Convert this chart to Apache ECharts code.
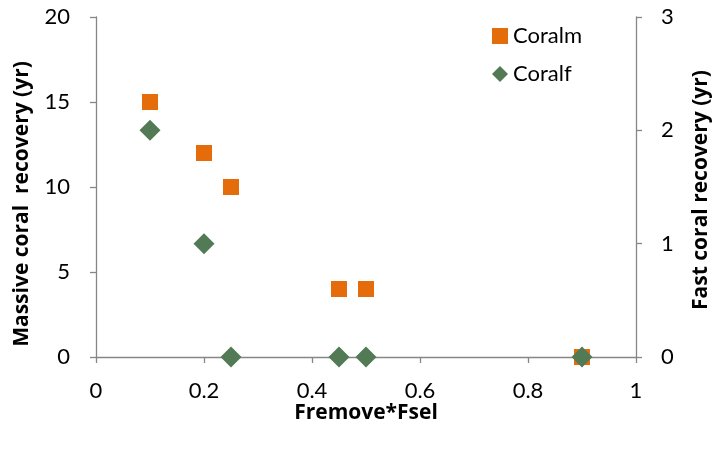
<!DOCTYPE html>
<html><head><meta charset="utf-8">
<script src="https://cdn.jsdelivr.net/npm/echarts@6/dist/echarts.min.js"></script>
<style>html,body{margin:0;padding:0;background:#fff}#c{width:720px;height:452px}</style>
</head><body><div id="c"></div>
<script>
const xValues = [0.1, 0.2, 0.25, 0.45, 0.5, 0.9];
const coralm = [15, 12, 10, 4, 4, 0];
const coralf = [2, 1, 0, 0, 0, 0];
const seriesNames = ['Coralm', 'Coralf'];
const xTitle = 'Fremove*Fsel';
const yLeftTitle = 'Massive coral  recovery (yr)';
const yRightTitle = 'Fast coral recovery (yr)';

const FONT = 'Lato, "Open Sans", sans-serif';
const TFONT = '"Open Sans", sans-serif';
const axisColor = '#868686';
const chart = echarts.init(document.getElementById('c'));
const axisCommon = {
  nameMoveOverlap: false,
  axisLine: {show: true, onZero: false, lineStyle: {color: axisColor, width: 1.3}},
  axisTick: {show: true, length: 6, lineStyle: {color: axisColor, width: 1.3}},
  splitLine: {show: false},
  axisLabel: {color: '#000', fontSize: 22, fontFamily: FONT},
  nameTextStyle: {color: '#000', fontSize: 21, fontWeight: 'bold', fontFamily: TFONT}
};
chart.setOption({
  animation: false,
  grid: {left: 96, right: 84, top: 17, bottom: 95},
  legend: {
    orient: 'vertical', left: 487, top: 20, itemGap: 16,
    itemWidth: 16, itemHeight: 16,
    textStyle: {fontSize: 22, fontFamily: FONT, color: '#000'},
    data: [{name: seriesNames[0], icon: 'rect'}, {name: seriesNames[1], icon: 'diamond'}]
  },
  xAxis: Object.assign({}, axisCommon, {
    type: 'value', min: 0, max: 1, interval: 0.2,
    name: xTitle, nameLocation: 'middle', nameGap: 46,
    axisLabel: Object.assign({}, axisCommon.axisLabel, {margin: 23})
  }),
  yAxis: [
    Object.assign({}, axisCommon, {
      type: 'value', min: 0, max: 20, interval: 5, position: 'left',
      name: yLeftTitle, nameLocation: 'middle', nameGap: 63,
      nameTextStyle: Object.assign({}, axisCommon.nameTextStyle, {padding: [0, 34, 0, 0]}),
      axisLabel: Object.assign({}, axisCommon.axisLabel, {margin: 26})
    }),
    Object.assign({}, axisCommon, {
      type: 'value', min: 0, max: 3, interval: 1, position: 'right',
      name: yRightTitle, nameLocation: 'middle', nameGap: 55,
      nameTextStyle: Object.assign({}, axisCommon.nameTextStyle, {padding: [0, 6, 0, 0]}),
      axisLabel: Object.assign({}, axisCommon.axisLabel, {margin: 25})
    })
  ],
  series: [
    {name: seriesNames[0], type: 'scatter', yAxisIndex: 0, symbol: 'rect', symbolSize: 16,
     itemStyle: {color: '#E46C0A', opacity: 1},
     data: xValues.map((x, i) => [x, coralm[i]])},
    {name: seriesNames[1], type: 'scatter', yAxisIndex: 1, symbol: 'diamond', symbolSize: 21,
     itemStyle: {color: '#517A55', opacity: 1},
     data: xValues.map((x, i) => [x, coralf[i]])}
  ]
});
</script></body></html>
